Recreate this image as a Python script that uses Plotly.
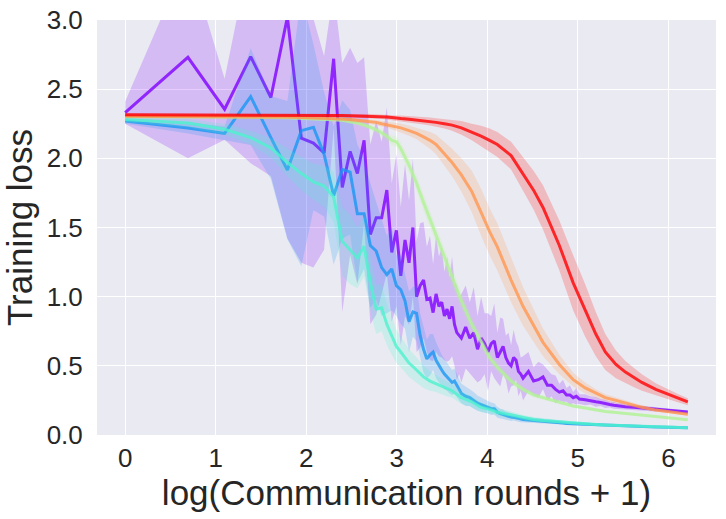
import numpy as np
import plotly.graph_objects as go

# communication rounds sampled for the noisy curves (purple, blue)
rounds_fine = np.array(
    list(range(0, 41)) + list(range(42, 81, 2)) + list(range(85, 151, 5))
    + list(range(160, 251, 10)) + [275, 300, 325, 350, 400, 450, 499])

# communication rounds sampled for the smoother curves
rounds_smooth = np.array([0, 1, 2, 3, 4, 5, 6, 7, 8, 9, 10, 11, 12, 13, 14, 15, 16, 17, 18, 19,
                          20, 22, 24, 26, 28, 30, 33, 36, 40, 45, 50, 55, 60, 70, 80, 90, 100,
                          120, 140, 160, 180, 200, 225, 250, 275, 300, 350, 400, 450, 499])

purple_mean = [2.33, 2.73, 2.355, 2.735, 2.44, 3.02, 2.146, 2.11, 2.04, 2.72,
               1.79, 2.05, 1.89, 2.13, 1.45, 1.57, 1.57, 1.77, 1.32, 1.48,
               1.15, 1.41, 1.245, 1.50, 1.00, 1.08, 1.12, 0.98, 0.99, 0.885,
               1.02, 0.93, 0.96, 0.86, 0.91, 0.84, 0.93, 0.80, 0.74, 0.72, 0.70,
               0.78, 0.70, 0.74, 0.62, 0.70, 0.66, 0.60, 0.66, 0.68, 0.56,
               0.60, 0.64, 0.56, 0.52, 0.50, 0.56, 0.54, 0.46, 0.44, 0.41,
               0.46, 0.39, 0.40, 0.42, 0.36, 0.36, 0.33, 0.31, 0.32, 0.29, 0.29, 0.27, 0.28, 0.26,
               0.255, 0.25, 0.24, 0.235, 0.225, 0.22, 0.215, 0.21, 0.21, 0.205,
               0.20, 0.195, 0.19, 0.185, 0.178, 0.172, 0.166]
purple_std = [0.08, 0.73, 0.22, 0.77, 0.57, 1.6, 0.9, 0.9, 0.7, 0.5,
              0.9, 0.75, 0.8, 0.6, 0.65, 0.7, 0.55, 0.6, 0.5, 0.55,
              0.5, 0.55, 0.45, 0.5, 0.4, 0.45, 0.42, 0.38, 0.45, 0.35,
              0.42, 0.36, 0.4, 0.32, 0.38, 0.3, 0.36, 0.3, 0.34, 0.28, 0.32,
              0.3, 0.26, 0.33, 0.24, 0.3, 0.22, 0.28, 0.2, 0.27, 0.18,
              0.25, 0.2, 0.16, 0.22, 0.15, 0.2, 0.14, 0.18, 0.12, 0.16,
              0.14, 0.1, 0.13, 0.09, 0.11, 0.08, 0.1, 0.06, 0.08, 0.05, 0.07, 0.04, 0.06, 0.035,
              0.04, 0.03, 0.035, 0.025, 0.03, 0.022, 0.025, 0.02, 0.022, 0.018,
              0.018, 0.016, 0.015, 0.015, 0.014, 0.013, 0.012]

blue_mean = [2.27, 2.22, 2.18, 2.446, 2.15, 1.915, 2.20, 2.225, 2.03, 1.73,
             1.92, 1.90, 1.60, 1.60, 1.37, 1.33, 1.21, 1.16, 1.20, 1.08,
             1.05, 0.97, 0.82, 0.89, 0.88, 0.72, 0.62, 0.55, 0.58, 0.60,
             0.54, 0.50, 0.47, 0.44, 0.42, 0.40, 0.38, 0.39, 0.36, 0.33, 0.30,
             0.28, 0.27, 0.25, 0.23, 0.22, 0.21, 0.20, 0.19, 0.19, 0.165,
             0.155, 0.15, 0.14, 0.135, 0.13, 0.13, 0.125, 0.12, 0.115, 0.112,
             0.108, 0.104, 0.10, 0.097, 0.094, 0.092, 0.09, 0.088, 0.086, 0.084, 0.083, 0.081, 0.08, 0.079,
             0.076, 0.074, 0.072, 0.07, 0.069, 0.068, 0.067, 0.066, 0.065, 0.064,
             0.062, 0.06, 0.059, 0.058, 0.056, 0.054, 0.052]
blue_std = [0.02, 0.04, 0.05, 0.35, 0.3, 0.5, 0.98, 0.6, 0.45, 0.5,
            0.5, 0.45, 0.5, 0.4, 0.45, 0.35, 0.35, 0.28, 0.3, 0.22,
            0.25, 0.2, 0.22, 0.18, 0.2, 0.16, 0.17, 0.14, 0.15, 0.13,
            0.13, 0.12, 0.11, 0.11, 0.1, 0.1, 0.09, 0.09, 0.08, 0.08, 0.07,
            0.07, 0.06, 0.06, 0.055, 0.05, 0.05, 0.045, 0.045, 0.04, 0.04,
            0.035, 0.035, 0.03, 0.03, 0.028, 0.026, 0.025, 0.024, 0.022, 0.02,
            0.02, 0.018, 0.017, 0.016, 0.015, 0.014, 0.013, 0.012, 0.012, 0.011, 0.011, 0.01, 0.01, 0.01,
            0.01, 0.01, 0.01, 0.01, 0.01, 0.01, 0.01, 0.01, 0.01, 0.01,
            0.008, 0.008, 0.008, 0.008, 0.008, 0.008, 0.008]

cyan_mean = [2.28, 2.255, 2.21, 2.15, 2.075, 1.97, 1.89, 1.83, 1.80, 1.72,
             1.40, 1.34, 1.28, 1.365, 1.10, 0.91, 0.92, 0.80, 0.72, 0.64,
             0.60, 0.52, 0.47, 0.42, 0.39, 0.37, 0.34, 0.32, 0.27, 0.24, 0.20, 0.185, 0.165,
             0.145, 0.125, 0.112, 0.104, 0.094, 0.086, 0.08, 0.076, 0.072,
             0.069, 0.066, 0.064, 0.062, 0.059, 0.057, 0.055, 0.053]
cyan_std = [0.02, 0.03, 0.04, 0.05, 0.07, 0.1, 0.12, 0.13, 0.15, 0.18,
            0.25, 0.25, 0.22, 0.22, 0.2, 0.18, 0.17, 0.15, 0.14, 0.12,
            0.11, 0.1, 0.09, 0.08, 0.07, 0.06, 0.055, 0.05, 0.045, 0.04, 0.035, 0.03, 0.028,
            0.024, 0.02, 0.018, 0.016, 0.014, 0.012, 0.011, 0.01, 0.01,
            0.009, 0.009, 0.008, 0.008, 0.008, 0.007, 0.007, 0.007]

green_mean = [2.30, 2.30, 2.30, 2.298, 2.296, 2.294, 2.29, 2.287, 2.284, 2.28,
              2.275, 2.265, 2.255, 2.24, 2.225, 2.205, 2.185, 2.16, 2.13, 2.12,
              2.07, 1.95, 1.82, 1.68, 1.56, 1.45, 1.28, 1.14, 0.97, 0.80, 0.67, 0.56, 0.49,
              0.39, 0.33, 0.29, 0.27, 0.235, 0.21, 0.195, 0.18, 0.17,
              0.162, 0.155, 0.149, 0.143, 0.135, 0.127, 0.118, 0.11]
green_std = [0.005, 0.005, 0.005, 0.005, 0.006, 0.006, 0.007, 0.007, 0.008, 0.009,
             0.01, 0.012, 0.014, 0.016, 0.018, 0.02, 0.025, 0.03, 0.035, 0.04,
             0.045, 0.05, 0.055, 0.06, 0.06, 0.06, 0.06, 0.06, 0.06, 0.05, 0.045, 0.04, 0.035,
             0.025, 0.02, 0.018, 0.015, 0.012, 0.011, 0.01, 0.01, 0.009,
             0.008, 0.008, 0.007, 0.007, 0.007, 0.006, 0.006, 0.006]

orange_mean = [2.305, 2.304, 2.303, 2.302, 2.30, 2.298, 2.296, 2.294, 2.292, 2.29,
               2.285, 2.28, 2.275, 2.27, 2.265, 2.26, 2.25, 2.243, 2.235, 2.23,
               2.22, 2.20, 2.18, 2.155, 2.13, 2.10, 2.03, 1.97, 1.88, 1.76, 1.61, 1.47, 1.36,
               1.12, 0.93, 0.79, 0.67, 0.51, 0.40, 0.34, 0.30, 0.27,
               0.25, 0.23, 0.215, 0.20, 0.18, 0.17, 0.16, 0.15]
orange_std = [0.01, 0.01, 0.01, 0.01, 0.01, 0.01, 0.01, 0.01, 0.012, 0.012,
              0.013, 0.014, 0.015, 0.016, 0.017, 0.018, 0.02, 0.022, 0.025, 0.03,
              0.032, 0.037, 0.042, 0.05, 0.06, 0.07, 0.085, 0.1, 0.12, 0.15, 0.17, 0.17, 0.17,
              0.16, 0.14, 0.12, 0.1, 0.07, 0.05, 0.04, 0.03, 0.025,
              0.022, 0.02, 0.017, 0.015, 0.012, 0.01, 0.01, 0.01]

red_mean = [2.315, 2.315, 2.314, 2.314, 2.313, 2.313, 2.312, 2.311, 2.31, 2.31,
            2.309, 2.308, 2.307, 2.306, 2.305, 2.303, 2.301, 2.299, 2.296, 2.29,
            2.288, 2.283, 2.278, 2.272, 2.266, 2.26, 2.25, 2.24, 2.22, 2.19, 2.16, 2.13, 2.10,
            2.02, 1.89, 1.77, 1.645, 1.37, 1.10, 0.90, 0.73, 0.60,
            0.51, 0.455, 0.415, 0.38, 0.33, 0.295, 0.265, 0.24]
red_std = [0.01, 0.01, 0.01, 0.01, 0.01, 0.01, 0.01, 0.01, 0.012, 0.012,
           0.012, 0.013, 0.013, 0.014, 0.015, 0.016, 0.017, 0.018, 0.019, 0.02,
           0.021, 0.023, 0.025, 0.027, 0.029, 0.03, 0.035, 0.04, 0.05, 0.06, 0.075, 0.085, 0.09,
           0.1, 0.12, 0.14, 0.16, 0.18, 0.2, 0.19, 0.16, 0.13,
           0.1, 0.08, 0.07, 0.06, 0.045, 0.035, 0.03, 0.025]

# rainbow colormap, 6 evenly spaced samples
series = [
    (rounds_fine, purple_mean, purple_std, (128, 0, 255)),
    (rounds_fine, blue_mean, blue_std, (25, 150, 243)),
    (rounds_smooth, cyan_mean, cyan_std, (77, 243, 206)),
    (rounds_smooth, green_mean, green_std, (178, 243, 150)),
    (rounds_smooth, orange_mean, orange_std, (255, 150, 79)),
    (rounds_smooth, red_mean, red_std, (255, 0, 0)),
]

fig = go.Figure()
for rounds, mean, std, (r, g, b) in series:
    x = np.log(rounds + 1)
    mean = np.array(mean)
    std = np.array(std)
    upper = mean + std
    lower = mean - std
    fig.add_trace(go.Scatter(
        x=np.concatenate([x, x[::-1]]), y=np.concatenate([upper, lower[::-1]]),
        fill="toself", fillcolor=f"rgba({r},{g},{b},0.2)", line=dict(width=0),
        mode="lines", hoverinfo="skip", showlegend=False,
    ))
    fig.add_trace(go.Scatter(
        x=x, y=mean, mode="lines", showlegend=False,
        line=dict(color=f"rgba({r},{g},{b},0.8)", width=3),
    ))

fig.update_layout(
    width=726, height=519,
    paper_bgcolor="white", plot_bgcolor="#EAEAF2",
    margin=dict(l=97, r=10, t=20, b=84),
    font=dict(family="Liberation Sans, Arial, sans-serif", size=26, color="#262626"),
    xaxis=dict(
        range=[-0.311, 6.526], tickvals=[0, 1, 2, 3, 4, 5, 6],
        showgrid=True, gridcolor="white", gridwidth=1.3, zeroline=False,
        ticks="outside", ticklen=0, tickcolor="rgba(0,0,0,0)",
        title=dict(text="log(Communication rounds + 1)", font=dict(size=35), standoff=4),
        showline=False, automargin=False,
    ),
    yaxis=dict(
        range=[0, 3], tickvals=[0, 0.5, 1, 1.5, 2, 2.5, 3], tickformat=".1f",
        showgrid=True, gridcolor="white", gridwidth=1.3, zeroline=False,
        ticks="outside", ticklen=8, tickcolor="rgba(0,0,0,0)",
        ticklabeloverflow="allow",
        title=dict(text="Training loss", font=dict(size=35), standoff=6),
        showline=False, automargin=False,
    ),
)

# drop the page's default 8px body margin so the figure fills the window exactly
fig.write_html("out.html", config={"displayModeBar": False},
               post_script="document.body.style.margin = '0';")
